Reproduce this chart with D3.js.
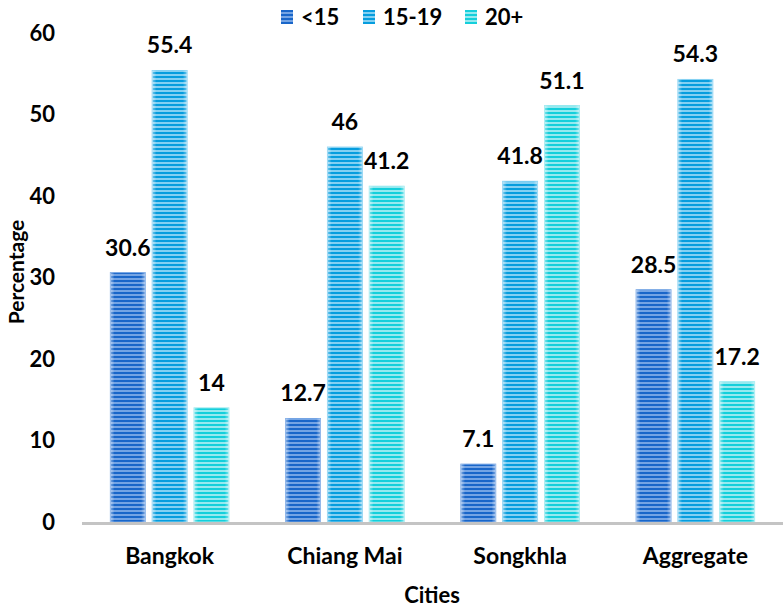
<!DOCTYPE html>
<html>
<head>
<meta charset="utf-8">
<script src="https://cdn.jsdelivr.net/npm/d3@7"></script>
<style>
  html, body { margin: 0; padding: 0; background: #fff; }
  text { font-family: Lato, "Open Sans", sans-serif; font-weight: bold; fill: #000; }
</style>
</head>
<body>
<svg id="chart" width="783" height="610"></svg>
<script>
const cities = ["Bangkok", "Chiang Mai", "Songkhla", "Aggregate"];
const groups = ["<15", "15-19", "20+"];
const under15 = [30.6, 12.7, 7.1, 28.5];
const age15to19 = [55.4, 46, 41.8, 54.3];
const age20plus = [14, 41.2, 51.1, 17.2];
const yTicks = [0, 10, 20, 30, 40, 50, 60];

const seriesValues = [under15, age15to19, age20plus];
const rows = cities.map((c, i) => ({
  city: c,
  values: groups.map((g, k) => ({ group: g, key: k, value: seriesValues[k][i] }))
}));

// stripe colours per series: [dark, light]
const stripeColors = [
  ["#1966c9", "#74a4e4"],
  ["#069dde", "#83d0f2"],
  ["#14cfdb", "#96e9ef"]
];

const svg = d3.select("#chart");
const width = 783;
const margin = { left: 82, right: 0 };

const defs = svg.append("defs");
stripeColors.forEach((c, k) => {
  const p = defs.append("pattern")
    .attr("id", "stripe" + k)
    .attr("patternUnits", "userSpaceOnUse")
    .attr("width", 8).attr("height", 4);
  p.append("rect").attr("width", 8).attr("height", 4).attr("fill", c[1]);
  p.append("rect").attr("width", 8).attr("height", 2).attr("fill", c[0]);
});
// soft lighter edges on each bar
const edge = defs.append("linearGradient").attr("id", "edgeGlow")
  .attr("x1", "0").attr("x2", "1").attr("y1", "0").attr("y2", "0");
[[0, 0.45], [0.12, 0], [0.88, 0], [1, 0.45]].forEach(([o, a]) => {
  edge.append("stop").attr("offset", o).attr("stop-color", "#fff").attr("stop-opacity", a);
});

const x0 = d3.scaleBand()
  .domain(cities)
  .range([margin.left, width - margin.right])
  .paddingInner(0.324)
  .paddingOuter(0.162);

const x1 = d3.scaleBand()
  .domain(groups)
  .range([0, x0.bandwidth()])
  .paddingInner(0.167)
  .paddingOuter(0);

const y = d3.scaleLinear()
  .domain([0, 60])
  .range([522, 33]);

// y axis tick labels (no axis line)
const yAxis = svg.append("g")
  .attr("transform", `translate(${margin.left},0)`)
  .call(d3.axisLeft(y).tickValues(yTicks).tickSize(0).tickPadding(27));
yAxis.select(".domain").remove();
yAxis.selectAll("text")
  .style("font-family", "Lato, sans-serif")
  .style("font-weight", "bold")
  .style("font-size", "22px")
  .attr("fill", "#000");

// bars
const groupSel = svg.append("g").selectAll("g")
  .data(rows)
  .join("g")
  .attr("transform", d => `translate(${x0(d.city)},0)`);

groupSel.selectAll("rect.bar")
  .data(d => d.values)
  .join("rect")
  .attr("class", "bar")
  .attr("x", d => x1(d.group))
  .attr("y", d => y(d.value))
  .attr("width", x1.bandwidth())
  .attr("height", d => y(0) - y(d.value))
  .attr("fill", d => `url(#stripe${d.key})`)
  .attr("stroke", d => stripeColors[d.key][1])
  .attr("stroke-width", 1);

groupSel.selectAll("rect.glow")
  .data(d => d.values)
  .join("rect")
  .attr("class", "glow")
  .attr("x", d => x1(d.group))
  .attr("y", d => y(d.value))
  .attr("width", x1.bandwidth())
  .attr("height", d => y(0) - y(d.value))
  .attr("fill", "url(#edgeGlow)");

groupSel.selectAll("text.val")
  .data(d => d.values)
  .join("text")
  .attr("class", "val")
  .attr("x", d => x1(d.group) + x1.bandwidth() / 2)
  .attr("y", d => y(d.value) - 17)
  .attr("text-anchor", "middle")
  .style("font-size", "23px")
  .text(d => d.value);

// x axis line
svg.append("line")
  .attr("x1", margin.left).attr("x2", width)
  .attr("y1", y(0) + 1.5).attr("y2", y(0) + 1.5)
  .attr("stroke", "#c4c4c4").attr("stroke-width", 3);

// category labels
const xAxis = svg.append("g")
  .attr("transform", `translate(0,${y(0)})`)
  .call(d3.axisBottom(x0).tickSize(0).tickPadding(26));
xAxis.select(".domain").remove();
xAxis.selectAll("text")
  .style("font-family", "Lato, sans-serif")
  .style("font-weight", "bold")
  .style("font-size", "23px")
  .attr("fill", "#000");

// axis titles
svg.append("text")
  .attr("x", 432)
  .attr("y", 603)
  .attr("text-anchor", "middle")
  .style("font-size", "22px")
  .text("Cities");

svg.append("text")
  .attr("transform", "translate(24,272) rotate(-90)")
  .attr("text-anchor", "middle")
  .style("font-size", "21px")
  .text("Percentage");

// legend
const legendX = [281, 363, 465];
const legend = svg.append("g").selectAll("g")
  .data(groups)
  .join("g")
  .attr("transform", (d, i) => `translate(${legendX[i]},10)`);
legend.append("rect")
  .attr("width", 12).attr("height", 14)
  .attr("fill", (d, i) => `url(#stripe${i})`);
legend.append("text")
  .attr("x", 20).attr("y", 15)
  .style("font-size", "22px")
  .text(d => d);
</script>
</body>
</html>
